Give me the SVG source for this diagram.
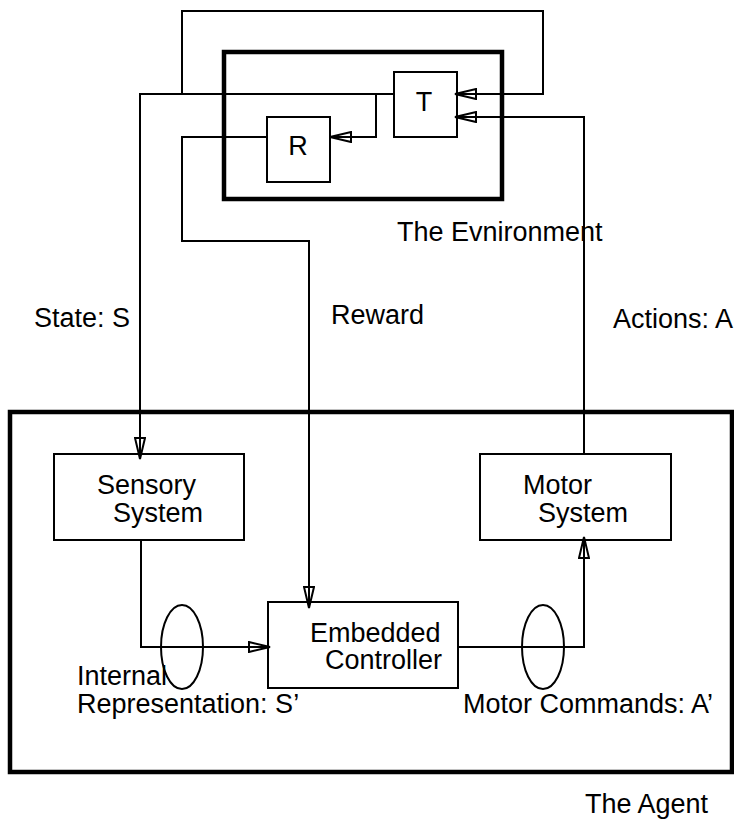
<svg xmlns="http://www.w3.org/2000/svg" width="734" height="823" viewBox="0 0 734 823">
  <style>
    text { font-family: "Liberation Sans", Arial, sans-serif; font-size: 27px; fill: #000; }
    .mid { text-anchor: middle; }
    .box { fill: none; stroke: #000; stroke-width: 2; }
    .frame { fill: none; stroke: #000; stroke-width: 4.5; }
    .wire { fill: none; stroke: #000; stroke-width: 2; stroke-linejoin: miter; }
    .arrow { marker-end: url(#open); }
  </style>
  <defs>
    <!-- narrow open triangle head, tip at the path end -->
    <marker id="open" markerUnits="userSpaceOnUse" markerWidth="24" markerHeight="12"
            viewBox="0 0 24 12" refX="22" refY="6" orient="auto">
      <path d="M1,1 L22,6 L1,11 Z" fill="none" stroke="#000" stroke-width="2"/>
    </marker>
  </defs>

  <rect width="734" height="823" fill="#fff"/>

  <!-- environment -->
  <g id="environment">
    <rect class="frame" x="224" y="52" width="278" height="147"/>
    <text x="397" y="241">The Evnironment</text>
  </g>

  <g id="transition-T">
    <rect class="box" x="394" y="72" width="63" height="65"/>
    <text class="mid" x="424" y="111">T</text>
  </g>

  <g id="reward-R">
    <rect class="box" x="267" y="117" width="63" height="65"/>
    <text class="mid" x="298" y="155">R</text>
  </g>

  <!-- agent -->
  <g id="agent">
    <rect class="frame" x="10" y="412" width="722" height="360"/>
    <text x="585" y="813">The Agent</text>
  </g>

  <g id="sensory-system">
    <rect class="box" x="54" y="454" width="190" height="86"/>
    <text x="97" y="494">Sensory</text>
    <text x="113" y="522">System</text>
  </g>

  <g id="motor-system">
    <rect class="box" x="480" y="454" width="191" height="86"/>
    <text x="523" y="494">Motor</text>
    <text x="538" y="522">System</text>
  </g>

  <g id="embedded-controller">
    <rect class="box" x="268" y="602" width="190" height="86"/>
    <text x="310" y="642">Embedded</text>
    <text x="325" y="669">Controller</text>
  </g>

  <g id="internal-representation">
    <ellipse class="box" cx="182" cy="647" rx="21" ry="42"/>
    <text x="77" y="685">Internal</text>
    <text x="77" y="713">Representation: S’</text>
  </g>

  <g id="motor-commands">
    <ellipse class="box" cx="543" cy="647" rx="21" ry="42"/>
    <text x="463" y="713">Motor Commands: A’</text>
  </g>

  <!-- connectors -->
  <g id="connectors">
    <!-- state feedback loop into T -->
    <polyline class="wire arrow" points="182,94 182,11 543,11 543,94 455,94"/>
    <!-- state: T out to sensory system -->
    <polyline class="wire arrow" points="394,94 140,94 140,459"/>
    <!-- state branch into R -->
    <polyline class="wire arrow" points="376,94 376,137 330,137"/>
    <!-- reward: R out to controller -->
    <polyline class="wire arrow" points="267,137 182,137 182,241 309,241 309,608"/>
    <!-- actions: motor system up to T -->
    <polyline class="wire arrow" points="584,454 584,117 455,117"/>
    <!-- sensory system to controller -->
    <polyline class="wire arrow" points="141,540 141,647 270,647"/>
    <!-- controller to motor system -->
    <polyline class="wire arrow" points="458,647 584,647 584,537"/>
  </g>

  <!-- connector labels -->
  <g id="connector-labels">
    <text x="34" y="327">State: S</text>
    <text x="331" y="324">Reward</text>
    <text x="613" y="328">Actions: A</text>
  </g>
</svg>
